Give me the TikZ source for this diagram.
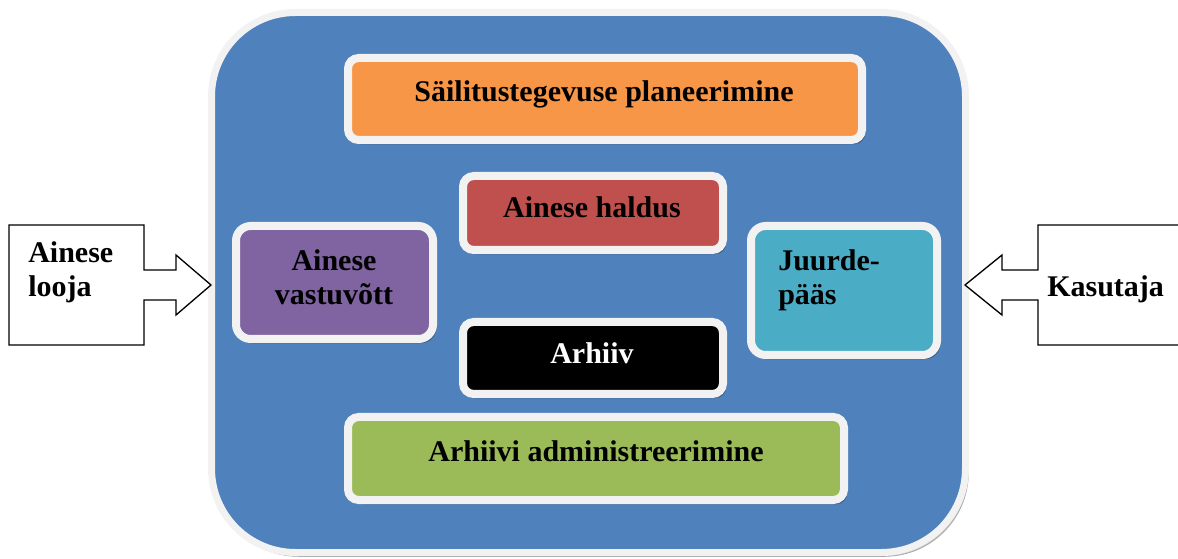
\documentclass[tikz,border=0pt]{standalone}
\usepackage{fontspec}
\setmainfont{Liberation Serif}
\definecolor{frameblue}{HTML}{4F81BD}
\definecolor{rimgray}{HTML}{F2F2F2}
\definecolor{planorange}{HTML}{F79646}
\definecolor{haldred}{HTML}{C0504D}
\definecolor{intakepurple}{HTML}{8064A2}
\definecolor{accessteal}{HTML}{4BACC6}
\definecolor{admingreen}{HTML}{9BBB59}
\tikzset{
  stage/.style={draw=rimgray,line width=6pt,rounded corners=#1,
    preaction={draw=black!80,fill=black!80,opacity=.3,
      transform canvas={shift={(2.25pt,-3pt)}}}},
  stage/.default=8pt,
  caption/.style={font=\fontsize{22.5}{25.5}\selectfont\bfseries,inner sep=0pt},
  blockarrow/.style={draw=black,line width=1pt,fill=white,line join=miter},
}
\begin{document}
\begin{tikzpicture}[x=0.75pt,y=-0.75pt]
  \clip (0,0) rectangle (1178,559);
  % the archive
  \draw[stage=63pt,fill=frameblue,line width=5.25pt] (211.5,12.5) rectangle (965.5,552.5);
  % functional units
  \draw[stage,fill=planorange] (348,58) rectangle (862,140);
  \draw[stage,fill=haldred] (463,176) rectangle (723,250);
  \draw[stage,fill=black] (463,322) rectangle (723,394);
  \draw[stage=11pt,fill=intakepurple] (236,226) rectangle (433,339);
  \draw[stage=11pt,fill=accessteal] (751,226) rectangle (937,355);
  \draw[stage,fill=admingreen] (348,417) rectangle (844,500);
  \node[caption,anchor=base] (plan) at (604,102) {Säilitustegevuse planeerimine};
  \node[caption,anchor=base] (haldus) at (592,218) {Ainese haldus};
  \node[caption,anchor=base,text=white] (arhiiv) at (592,364) {Arhiiv};
  \node[caption,anchor=base,align=center] (vastuvott) at (334,305) {Ainese\\vastuvõtt};
  \node[caption,anchor=base west,align=left] (juurdepaas) at (778,305) {Juurde-\\pääs};
  \node[caption,anchor=base] (admin) at (596,461) {Arhiivi administreerimine};
  % producer and consumer
  \draw[blockarrow] (9,225) -- (144,225) -- (144,270) -- (176,270) -- (176,255)
    -- (211,285) -- (176,315) -- (176,300) -- (144,300) -- (144,345) -- (9,345) -- cycle;
  \draw[blockarrow] (1190,225) -- (1038,225) -- (1038,270) -- (1002,270) -- (1002,255)
    -- (965,285) -- (1002,315) -- (1002,300) -- (1038,300) -- (1038,345) -- (1190,345);
  \node[caption,anchor=base west,align=left] (looja) at (28,297) {Ainese\\looja};
  \node[caption,anchor=base west] (kasutaja) at (1047,297) {Kasutaja};
\end{tikzpicture}
\end{document}
